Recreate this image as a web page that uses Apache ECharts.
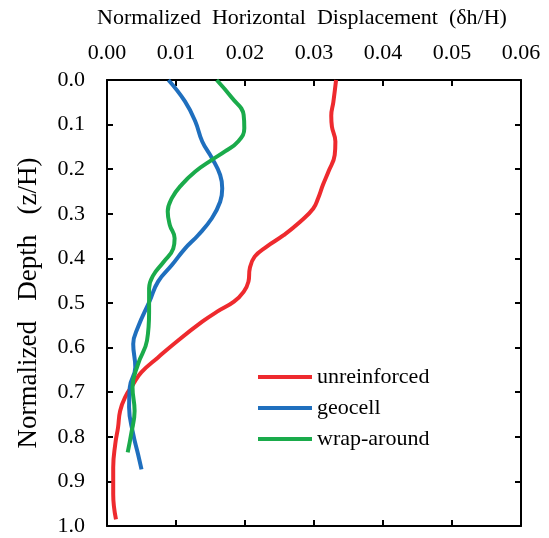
<!DOCTYPE html>
<html>
<head>
<meta charset="utf-8">
<script src="https://cdn.jsdelivr.net/npm/echarts@6/dist/echarts.min.js"></script>
<style>
html,body{margin:0;padding:0;background:#fff;}
#chart{width:549px;height:538px;}
</style>
</head>
<body>
<div id="chart"></div>
<script>
var seriesNames = ['unreinforced', 'geocell', 'wrap-around'];
var xTicks = ['0.00', '0.01', '0.02', '0.03', '0.04', '0.05', '0.06'];
var yTicks = ['0.0', '0.1', '0.2', '0.3', '0.4', '0.5', '0.6', '0.7', '0.8', '0.9', '1.0'];

// [displacement, depth]
var unreinforced = [
  [0.0332, 0.000], [0.0328, 0.050], [0.0325, 0.080], [0.0326, 0.105], [0.0331, 0.138], [0.0330, 0.168],
  [0.0321, 0.205], [0.0313, 0.235], [0.0306, 0.265], [0.0299, 0.288], [0.0280, 0.318],
  [0.0256, 0.348], [0.0231, 0.374], [0.0214, 0.396], [0.0207, 0.422], [0.0205, 0.452],
  [0.0198, 0.475], [0.0184, 0.497], [0.0159, 0.520], [0.0138, 0.542], [0.0103, 0.584],
  [0.0074, 0.622], [0.0050, 0.655], [0.0038, 0.682], [0.0026, 0.712], [0.0019, 0.742],
  [0.0016, 0.779], [0.0012, 0.816], [0.0009, 0.869], [0.0009, 0.929], [0.0013, 0.985]
];
var geocell = [
  [0.0089, 0.000], [0.0113, 0.048], [0.0128, 0.093], [0.0138, 0.138], [0.0152, 0.175],
  [0.0164, 0.213], [0.0167, 0.243], [0.0164, 0.273], [0.0152, 0.310], [0.0132, 0.348],
  [0.0113, 0.378], [0.0094, 0.415], [0.0074, 0.452], [0.0062, 0.495], [0.0045, 0.554],
  [0.0038, 0.592], [0.0041, 0.644], [0.0033, 0.689], [0.0032, 0.734], [0.0038, 0.794],
  [0.0045, 0.839], [0.0050, 0.873]
];
var wrapAround = [
  [0.0159, 0.000], [0.0181, 0.040], [0.0198, 0.078], [0.0199, 0.108], [0.0190, 0.138],
  [0.0171, 0.160], [0.0152, 0.179], [0.0128, 0.205], [0.0108, 0.235], [0.0094, 0.265],
  [0.0088, 0.295], [0.0091, 0.325], [0.0098, 0.355], [0.0096, 0.378], [0.0082, 0.408],
  [0.0067, 0.438], [0.0061, 0.467], [0.0061, 0.520], [0.0058, 0.584], [0.0045, 0.637],
  [0.0037, 0.689], [0.0040, 0.742], [0.0035, 0.794], [0.0030, 0.835]
];

var colors = ['#ee2a2e', '#1f6fbe', '#1aab4b'];
var font = 'Liberation Serif';
var fs = 22;

var chart = echarts.init(document.getElementById('chart'), null, {renderer: 'canvas'});

function baseAxisStyle() {
  return {
    axisLine: {show: true, onZero: false, lineStyle: {color: '#000', width: 2}},
    axisTick: {show: true, inside: true, length: 6, lineStyle: {color: '#000', width: 2}},
    splitLine: {show: false}
  };
}

var xTop = Object.assign({
  type: 'value', position: 'top', min: 0, max: 0.06, interval: 0.01,
  name: 'Normalized  Horizontal  Displacement  (\u03b4h/H)',
  nameLocation: 'middle', nameGap: 51,
  nameTextStyle: {fontFamily: font, fontSize: fs, color: '#000', padding: [0, 24, 0, 0]},
  axisLabel: {fontFamily: font, fontSize: fs, color: '#000', margin: 16,
    formatter: function (v) { return xTicks[Math.round(v / 0.01)]; }}
}, baseAxisStyle());
var xBottom = Object.assign({
  type: 'value', position: 'bottom', min: 0, max: 0.06, interval: 0.01,
  axisLabel: {show: false}
}, baseAxisStyle());
var yLeft = Object.assign({
  type: 'value', position: 'left', inverse: true, min: 0, max: 1, interval: 0.1,
  name: 'Normalized   Depth   (z/H)',
  nameLocation: 'middle', nameGap: 65,
  nameTextStyle: {fontFamily: font, fontSize: 27, color: '#000'},
  axisLabel: {fontFamily: font, fontSize: fs, color: '#000', margin: 22,
    formatter: function (v) { return yTicks[Math.round(v / 0.1)]; }}
}, baseAxisStyle());
var yRight = Object.assign({
  type: 'value', position: 'right', inverse: true, min: 0, max: 1, interval: 0.1,
  axisLabel: {show: false}
}, baseAxisStyle());

function mk(name, data, color) {
  return {
    name: name, type: 'line', data: data, smooth: 0.45, showSymbol: false, symbol: 'none',
    xAxisIndex: 0, yAxisIndex: 0,
    lineStyle: {color: color, width: 4}, itemStyle: {color: color}
  };
}

chart.setOption({
  animation: false,
  backgroundColor: '#fff',
  grid: {left: 107, right: 28, top: 80, bottom: 12, containLabel: false},
  xAxis: [xTop, xBottom],
  yAxis: [yLeft, yRight],
  legend: {
    orient: 'vertical', left: 253, top: 361, itemGap: 9,
    itemWidth: 54, itemHeight: 4, icon: 'rect',
    textStyle: {fontFamily: font, fontSize: fs, color: '#000'},
    data: seriesNames
  },
  series: [
    mk(seriesNames[0], unreinforced, colors[0]),
    mk(seriesNames[1], geocell, colors[1]),
    mk(seriesNames[2], wrapAround, colors[2])
  ]
});
</script>
</body>
</html>
